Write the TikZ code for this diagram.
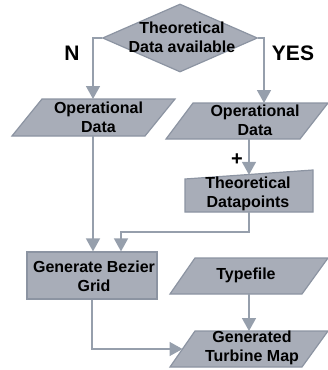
\documentclass[tikz,border=0pt]{standalone}
\usepackage{fontspec}
\setmainfont{Liberation Sans}
\usetikzlibrary{shapes.geometric,arrows.meta,calc}
\definecolor{boxfill}{RGB}{168,173,184}
\definecolor{boxedge}{RGB}{140,148,162}
\definecolor{conncol}{RGB}{150,159,172}
\begin{document}
\begin{tikzpicture}[x=1pt,y=-1pt,
  shapebox/.style={draw=boxedge, fill=boxfill, line width=1.2pt, line join=miter},
  txt/.style={font=\fontsize{16}{19}\selectfont\bfseries, align=center, inner sep=0pt},
  biglabel/.style={font=\fontsize{21}{24}\selectfont\bfseries, inner sep=0pt},
  arrowline/.style={draw=conncol, line width=1.6pt, -{Triangle[length=13pt,width=14pt]}},
  ]
\useasboundingbox (0,0) rectangle (328,370);
% decision
\node[shapebox, diamond, minimum width=155pt, minimum height=68pt, inner sep=0pt] (dia) at (180,38) {};
% left operational data
\draw[shapebox] (42,99) -- (175,99) -- (145,136) -- (12,136) -- cycle;
\coordinate (opLn) at (93,99);
\coordinate (opLs) at (93,136);
% right operational data
\draw[shapebox] (193,103) -- (328,103) -- (300,139) -- (166,139) -- cycle;
\coordinate (opRn) at (264,103);
\coordinate (opRs) at (249,139);
% theoretical datapoints (manual input)
\draw[shapebox] (185,179) -- (313,170) -- (313,212) -- (185,212) -- cycle;
\coordinate (tdTop) at (249,174.8);
\coordinate (tdBot) at (249,212);
% generate bezier grid
\node[shapebox, rectangle, minimum width=130pt, minimum height=47pt, inner sep=0pt] (gbg) at (92,275.5) {};
% typefile
\draw[shapebox] (195,258) -- (328,258) -- (302,294) -- (170,294) -- cycle;
\coordinate (tfs) at (249,294);
% generated turbine map
\draw[shapebox] (195,331) -- (328,331) -- (302,367) -- (170,367) -- cycle;
\coordinate (gtmn) at (249,331);
\coordinate (gtmw) at (182.5,349);
% texts
\node[txt] (diat) at (182,37) {Theoretical\\Data available};
\node[txt] (opLt) at (98.5,117.5) {Operational\\Data};
\node[txt] (opRt) at (255,120) {Operational\\Data};
\node[txt] (tdt) at (248,194) {Theoretical\\Datapoints};
\node[txt] (gbgt) at (94,276) {Generate Bezier\\Grid};
\node[txt] (tft) at (246,275) {Typefile};
\node[txt] (gtmt) at (252,347.5) {Generated\\Turbine Map};
\node[biglabel] (nlab) at (72,53) {N};
\node[biglabel] (yeslab) at (293,53) {YES};
\node[font=\fontsize{20}{22}\selectfont\bfseries, inner sep=0pt] (plus) at (237,160) {+};
% connectors
\draw[arrowline] (dia.west) -| (opLn);
\draw[arrowline] (dia.east) -| (opRn);
\draw[arrowline] (opRs) -- (tdTop);
\draw[arrowline] (opLs) -- (opLs |- gbg.north);
\draw[arrowline] (tdBot) -- ++(0,20) -| ([xshift=29pt]gbg.north);
\draw[arrowline] (gbg.south) |- (gtmw);
\draw[arrowline] (tfs) -- (gtmn);
\end{tikzpicture}
\end{document}
